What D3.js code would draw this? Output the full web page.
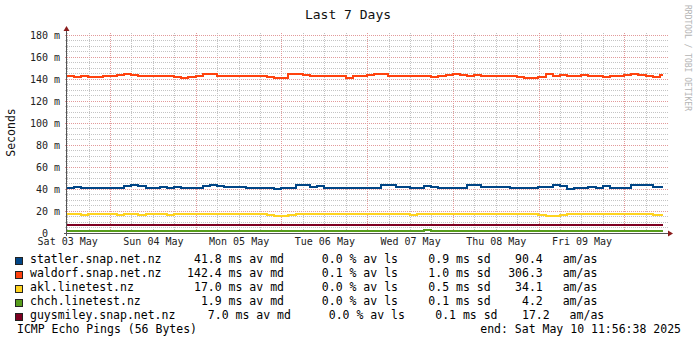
<!DOCTYPE html>
<html>
<head>
<meta charset="utf-8">
<script src="https://cdn.jsdelivr.net/npm/d3@7"></script>
<style>
  html, body { margin: 0; padding: 0; background: #fff; }
  svg { display: block; }
  text { font-family: "DejaVu Sans Mono", monospace; white-space: pre; }
</style>
</head>
<body>
<svg id="chart" width="697" height="343"></svg>
<script>
// ---- data -------------------------------------------------------------
const title = "Last 7 Days";
const yTitle = "Seconds";
const credit = "RRDTOOL / TOBI OETIKER";
const footerLeft = "ICMP Echo Pings (56 Bytes)";
const footerRight = "end: Sat May 10 11:56:38 2025";

const hosts = ["statler.snap.net.nz", "waldorf.snap.net.nz", "akl.linetest.nz",
               "chch.linetest.nz", "guysmiley.snap.net.nz"];
const hostColors = ["#004586", "#ff420e", "#ffd320", "#579d1c", "#7e0021"];
const medianAvg = [41.8, 142.4, 17.0, 1.9, 7.0];
const lossAvg = [0.0, 0.1, 0.0, 0.0, 0.0];
const sdAvg = [0.9, 1.0, 0.5, 0.1, 0.1];
const amas = [90.4, 306.3, 34.1, 4.2, 17.2];

const yTickValues = [0, 20, 40, 60, 80, 100, 120, 140, 160, 180];
const yTickLabels = ["0  ", "20 m", "40 m", "60 m", "80 m", "100 m", "120 m", "140 m", "160 m", "180 m"];

// median RTT (ms), one sample every 2 hours, starting Sat 03 May 11:56:38
const statler = [
  40.8, 41.4, 40.8, 41.2, 40.8, 40.8, 40.8, 41.0, 42.8, 43.4, 42.6, 41.2,
  41.0, 41.8, 41.0, 41.6, 40.8, 40.6, 40.6, 42.6, 43.2, 43.0, 42.0, 41.4,
  41.4, 41.2, 41.2, 41.0, 41.0, 39.8, 41.0, 41.2, 43.2, 43.2, 41.8, 42.2,
  41.2, 40.6, 40.6, 40.6, 40.8, 40.6, 40.8, 41.2, 43.4, 43.4, 41.8, 41.4,
  40.6, 41.0, 42.8, 41.4, 41.2, 40.8, 41.2, 41.0, 43.2, 43.4, 41.6, 41.4,
  41.4, 41.4, 41.2, 40.6, 41.2, 40.8, 41.4, 41.4, 43.2, 42.6, 39.8, 41.2,
  40.8, 41.8, 41.0, 42.8, 40.8, 40.6, 40.6, 43.4, 43.6, 43.4, 41.6, 41.6
];
const waldorf = [
  142.2, 141.8, 142.0, 141.6, 141.8, 142.2, 142.6, 143.2, 143.8, 143.6, 142.8, 142.4,
  142.4, 142.6, 142.0, 141.4, 140.6, 141.6, 142.8, 143.8, 143.8, 142.6, 142.4, 142.4,
  142.4, 142.2, 142.2, 142.0, 141.4, 140.2, 140.8, 143.8, 143.8, 143.4, 142.4, 142.6,
  142.4, 142.4, 142.0, 141.0, 142.6, 142.2, 143.0, 143.8, 143.8, 142.4, 142.4, 142.4,
  142.2, 142.4, 142.0, 141.8, 142.4, 143.4, 143.8, 143.6, 142.4, 143.6, 142.8, 142.6,
  142.4, 142.2, 142.2, 141.6, 140.6, 140.4, 141.8, 143.8, 142.6, 143.4, 142.4, 142.8,
  143.4, 142.4, 142.2, 141.8, 142.0, 142.6, 143.6, 143.8, 143.6, 142.6, 141.8, 143.0
];
const akl = [
  17.2, 17.2, 16.6, 17.0, 17.2, 16.8, 17.2, 16.6, 17.2, 17.0, 16.6, 17.0,
  16.8, 17.0, 16.6, 17.2, 17.2, 17.2, 17.2, 17.2, 17.2, 17.2, 17.0, 17.2,
  17.2, 17.0, 17.0, 17.0, 16.2, 15.8, 15.2, 16.6, 17.2, 17.2, 17.2, 17.2,
  16.8, 17.2, 17.2, 17.2, 17.2, 17.2, 17.2, 17.2, 17.2, 17.4, 17.6, 17.0,
  16.6, 17.2, 17.2, 17.2, 16.8, 17.2, 17.2, 17.2, 17.4, 17.4, 17.0, 17.0,
  17.2, 17.2, 17.0, 16.8, 17.2, 17.0, 16.4, 15.8, 15.8, 16.6, 17.0, 17.0,
  17.2, 16.8, 17.0, 17.2, 16.8, 17.2, 17.2, 17.0, 17.2, 17.2, 16.6, 16.6
];
const chch = [
  1.9, 1.9, 1.9, 1.9, 1.9, 1.9, 1.9, 1.9, 1.9, 1.9, 1.9, 1.9,
  1.9, 1.9, 1.9, 1.9, 1.9, 1.9, 1.9, 1.9, 1.9, 1.9, 1.9, 1.9,
  1.9, 1.9, 1.9, 1.9, 1.9, 1.9, 1.9, 1.9, 1.9, 1.9, 1.9, 1.9,
  1.9, 1.9, 1.9, 1.9, 1.9, 1.9, 1.9, 1.9, 1.9, 1.9, 1.9, 1.9,
  1.9, 1.9, 3.0, 1.9, 1.9, 1.9, 1.9, 1.9, 1.9, 1.9, 1.9, 1.9,
  1.9, 1.9, 1.9, 1.9, 1.9, 1.9, 1.9, 1.9, 1.9, 1.9, 1.9, 1.9,
  1.9, 1.9, 1.9, 1.9, 1.9, 1.9, 1.9, 1.9, 1.9, 1.9, 1.9, 1.9
];
const guysmiley = [
  7.0, 7.0, 7.0, 7.0, 7.0, 7.0, 7.0, 7.0, 7.0, 7.0, 7.0, 7.0,
  7.0, 7.0, 7.0, 7.0, 7.0, 7.0, 7.0, 7.0, 7.0, 7.0, 7.0, 7.0,
  7.0, 7.0, 7.0, 7.0, 7.0, 7.0, 7.0, 7.0, 7.0, 7.0, 7.0, 7.0,
  7.0, 7.0, 7.0, 7.0, 7.0, 7.0, 7.0, 7.0, 7.0, 7.0, 7.0, 7.0,
  7.0, 7.0, 7.0, 7.0, 7.0, 7.0, 7.0, 7.0, 7.0, 7.0, 7.0, 7.0,
  7.0, 7.0, 7.0, 7.0, 7.0, 7.0, 7.0, 7.0, 7.0, 7.0, 7.0, 7.0,
  7.0, 7.0, 7.0, 7.0, 7.0, 7.0, 7.0, 7.0, 7.0, 7.0, 7.0, 7.0
];
const seriesValues = [statler, waldorf, akl, chch, guysmiley];

// ---- layout -----------------------------------------------------------
const HOUR = 3600e3;
const startMs = Date.UTC(2025, 4, 3, 11, 56, 38);
const endMs = startMs + 168 * HOUR;
const stepHours = 2;

const plot = { left: 67, right: 667, top: 33, bottom: 233 };
const svg = d3.select("#chart");

const x = d3.scaleUtc()
  .domain([new Date(startMs), new Date(endMs)])
  .range([plot.left, plot.right]);
const y = d3.scaleLinear()
  .domain([0, 181.4])
  .range([plot.bottom, plot.top]);

const px = v => Math.round(v) + 0.5;

// ---- grid -------------------------------------------------------------
const grid = svg.append("g");
const minorY = d3.range(5, 181, 5).filter(v => v % 20 !== 0);
const majorY = yTickValues.filter(v => v > 0);
const sixHours = d3.utcHour.every(6).range(new Date(startMs + 1), new Date(endMs));
const minorX = sixHours.filter(d => d.getUTCHours() !== 0);
const majorX = sixHours.filter(d => d.getUTCHours() === 0);

grid.selectAll(".hmin").data(minorY).join("line")
  .attr("x1", plot.left - 2).attr("x2", plot.right + 1)
  .attr("y1", d => px(y(d))).attr("y2", d => px(y(d)))
  .attr("stroke", "#c4c4c4").attr("stroke-dasharray", "1,1");
grid.selectAll(".vmin").data(minorX).join("line")
  .attr("x1", d => px(x(d))).attr("x2", d => px(x(d)))
  .attr("y1", plot.top).attr("y2", plot.bottom + 2)
  .attr("stroke", "#c4c4c4").attr("stroke-dasharray", "1,1");
grid.selectAll(".hmaj").data(majorY).join("line")
  .attr("x1", plot.left - 2).attr("x2", plot.right + 1)
  .attr("y1", d => px(y(d))).attr("y2", d => px(y(d)))
  .attr("stroke", "#e29a9a").attr("stroke-dasharray", "1,1");
grid.selectAll(".vmaj").data(majorX).join("line")
  .attr("x1", d => px(x(d))).attr("x2", d => px(x(d)))
  .attr("y1", plot.top).attr("y2", plot.bottom + 2)
  .attr("stroke", "#e29a9a").attr("stroke-dasharray", "1,1");

// ---- series lines -----------------------------------------------------
const toPoints = vals => {
  const pts = vals.map((v, i) => ({ t: new Date(startMs + i * stepHours * HOUR), v }));
  pts.push({ t: new Date(startMs + (vals.length * stepHours - 1) * HOUR), v: vals[vals.length - 1] });
  return pts;
};
const line = d3.line()
  .x(d => Math.round(x(d.t)))
  .y(d => Math.round(y(d.v)))
  .curve(d3.curveStepAfter);

svg.append("g").selectAll("path").data(seriesValues).join("path")
  .attr("d", vals => line(toPoints(vals)))
  .attr("fill", "none")
  .attr("stroke", (d, i) => hostColors[i])
  .attr("stroke-width", 2);

// ---- axes -------------------------------------------------------------
const yAxis = d3.axisLeft(y)
  .tickValues(yTickValues)
  .tickFormat((d, i) => yTickLabels[i])
  .tickSize(0).tickPadding(0);
const yg = svg.append("g").attr("transform", `translate(${plot.left - 7},0)`).call(yAxis);
yg.select(".domain").remove();
yg.selectAll("text")
  .attr("xml:space", "preserve")
  .attr("dy", "0.37em")
  .attr("fill", "#222")
  .style("font-size", "10px");

const xTicks = d3.utcDay.range(new Date(Date.UTC(2025, 4, 3)), new Date(endMs))
  .map(d => new Date(+d + 12 * HOUR))
  .filter(d => +d <= endMs - 30 * 60e3);
const xAxis = d3.axisBottom(x)
  .tickValues(xTicks)
  .tickFormat(d3.utcFormat("%a %d %b"))
  .tickSize(0).tickPadding(0);
const xg = svg.append("g").attr("transform", `translate(0,${plot.bottom + 5})`).call(xAxis);
xg.select(".domain").remove();
xg.selectAll("text")
  .attr("dy", "0.72em")
  .attr("fill", "#222")
  .style("font-size", "10px");

// axis lines with arrow heads
const axisColor = "#555";
const arrowColor = "#8b1c1c";
svg.append("line")
  .attr("x1", plot.left - 3).attr("x2", plot.right + 2)
  .attr("y1", plot.bottom + 0.5).attr("y2", plot.bottom + 0.5)
  .attr("stroke", axisColor);
svg.append("line")
  .attr("x1", plot.left - 0.5).attr("x2", plot.left - 0.5)
  .attr("y1", plot.bottom + 3).attr("y2", plot.top - 3)
  .attr("stroke", axisColor);
svg.append("path")
  .attr("d", `M${plot.right + 1},${plot.bottom - 2.5} L${plot.right + 6},${plot.bottom + 0.5} L${plot.right + 1},${plot.bottom + 3.5} Z`)
  .attr("fill", arrowColor);
svg.append("path")
  .attr("d", `M${plot.left - 3.5},${plot.top - 2} L${plot.left - 0.5},${plot.top - 7} L${plot.left + 2.5},${plot.top - 2} Z`)
  .attr("fill", arrowColor);

// ---- titles -----------------------------------------------------------
svg.append("text")
  .attr("x", 348).attr("y", 18.5)
  .attr("text-anchor", "middle")
  .style("font-size", "13px").attr("fill", "#111")
  .text(title);

svg.append("text")
  .attr("transform", "translate(15,132.5) rotate(-90)")
  .attr("text-anchor", "middle")
  .style("font-size", "11.5px").attr("fill", "#111")
  .text(yTitle);

svg.append("text")
  .attr("transform", "translate(684.5,5) rotate(90)")
  .style("font-size", "8px").attr("fill", "#b4b4b4")
  .text(credit);

// ---- legend -----------------------------------------------------------
const legendFont = 11.5;
const charW = legendFont * 0.602;
const legend = svg.append("g").style("font-size", legendFont + "px").attr("fill", "#000");
hosts.forEach((name, i) => {
  const base = 263 + i * 14;
  const dx = Math.max(0, name.length - 20) * charW;
  legend.append("rect")
    .attr("x", 15.5).attr("y", base - 5.5).attr("width", 7).attr("height", 7)
    .attr("fill", hostColors[i]).attr("stroke", "#222");
  legend.append("text").attr("x", 30).attr("y", base).text(name);
  legend.append("text").attr("x", 284 + dx).attr("y", base).attr("text-anchor", "end")
    .text(`${medianAvg[i].toFixed(1)} ms av md`);
  legend.append("text").attr("x", 398 + dx).attr("y", base).attr("text-anchor", "end")
    .text(`${lossAvg[i].toFixed(1)} % av ls`);
  legend.append("text").attr("x", 490.6 + dx).attr("y", base).attr("text-anchor", "end")
    .text(`${sdAvg[i].toFixed(1)} ms sd`);
  legend.append("text").attr("x", 542.8 + dx).attr("y", base).attr("text-anchor", "end")
    .text(amas[i].toFixed(1));
  legend.append("text").attr("x", 562.7 + dx).attr("y", base).text("am/as");
});
legend.append("text").attr("x", 17).attr("y", 263 + 5 * 14).text(footerLeft);
legend.append("text").attr("x", 681).attr("y", 263 + 5 * 14).attr("text-anchor", "end").text(footerRight);
</script>
</body>
</html>
